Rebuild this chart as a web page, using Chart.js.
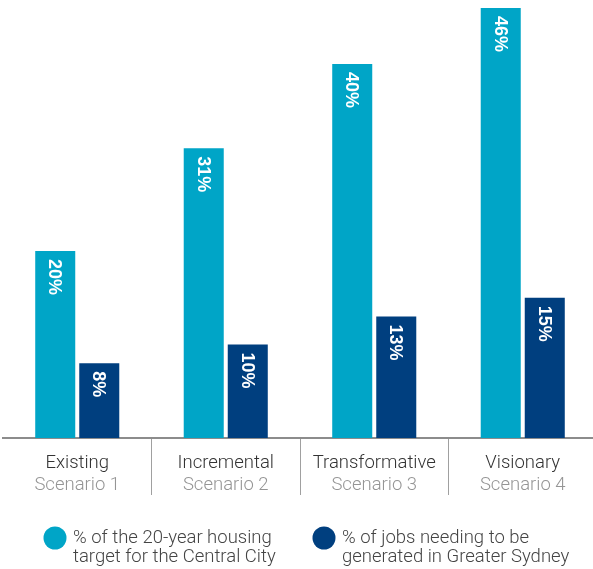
<!DOCTYPE html>
<html lang="en">
<head>
    <meta charset="UTF-8">
    <title>Central City growth scenarios</title>
    <script src="https://cdn.jsdelivr.net/npm/chart.js@4"></script>
    <style>
        html, body { margin: 0; padding: 0; background: #fff; overflow: hidden; }
        #wrap { position: absolute; left: 0; top: 0; width: 600px; height: 569px; }
    </style>
</head>
<body>
    <div id="wrap">
        <canvas id="scenarioChart" width="600" height="569"></canvas>
    </div>

    <script>
        // Scenario names (top line) and their scenario number (second line)
        const scenarioNames = ['Existing', 'Incremental', 'Transformative', 'Visionary'];
        const scenarioNumbers = ['Scenario 1', 'Scenario 2', 'Scenario 3', 'Scenario 4'];

        // Values in percent
        const housingShare = [20, 31, 40, 46];
        const jobsShare = [8, 10, 13, 15];

        // Legend text, one entry per series, split over two lines
        const housingLegend = ['% of the 20-year housing', 'target for the Central City'];
        const jobsLegend = ['% of jobs needing to be', 'generated in Greater Sydney'];

        const housingColor = '#00a5c7';
        const jobsColor = '#003f7f';

        const LABEL_FONT = '300 18.5px Roboto, "Open Sans", sans-serif';

        // White rotated value labels at the top of each bar
        const barValueLabels = {
            id: 'barValueLabels',
            afterDatasetsDraw(chart) {
                const ctx = chart.ctx;
                ctx.save();
                ctx.fillStyle = '#ffffff';
                ctx.font = 'bold 18px "Liberation Sans", Arial, sans-serif';
                ctx.textAlign = 'left';
                ctx.textBaseline = 'middle';
                chart.data.datasets.forEach((ds, di) => {
                    chart.getDatasetMeta(di).data.forEach((bar, i) => {
                        ctx.save();
                        ctx.translate(bar.x, bar.y + 8);
                        ctx.rotate(Math.PI / 2);
                        ctx.fillText(ds.data[i] + '%', 0, 1);
                        ctx.restore();
                    });
                });
                ctx.restore();
            }
        };

        // Two-line category labels under the axis
        const categoryLabels = {
            id: 'categoryLabels',
            afterDraw(chart) {
                const ctx = chart.ctx;
                const x = chart.scales.x;
                const base = chart.chartArea.bottom;
                ctx.save();
                ctx.font = LABEL_FONT;
                ctx.textAlign = 'center';
                ctx.textBaseline = 'middle';
                scenarioNames.forEach((name, i) => {
                    const px = x.getPixelForValue(i);
                    ctx.fillStyle = '#333333';
                    ctx.fillText(name, px, base + 25);
                    ctx.fillStyle = '#959595';
                    ctx.fillText(scenarioNumbers[i], px, base + 47);
                });
                ctx.restore();
            }
        };

        // Legend with round markers below the chart
        const roundLegend = {
            id: 'roundLegend',
            afterDraw(chart) {
                const ctx = chart.ctx;
                const items = [
                    { lines: housingLegend, color: housingColor, x: 55 },
                    { lines: jobsLegend, color: jobsColor, x: 324 }
                ];
                const cy = 538;
                ctx.save();
                ctx.font = LABEL_FONT;
                ctx.textAlign = 'left';
                ctx.textBaseline = 'middle';
                items.forEach(item => {
                    ctx.fillStyle = item.color;
                    ctx.beginPath();
                    ctx.arc(item.x, cy, 11.5, 0, Math.PI * 2);
                    ctx.fill();
                    ctx.fillStyle = '#444444';
                    item.lines.forEach((line, j) => {
                        ctx.fillText(line, item.x + 18, cy + j * 19);
                    });
                });
                ctx.restore();
            }
        };

        new Chart(document.getElementById('scenarioChart'), {
            type: 'bar',
            data: {
                labels: scenarioNames,
                datasets: [
                    {
                        label: housingLegend.join(' '),
                        data: housingShare,
                        backgroundColor: housingColor,
                        categoryPercentage: 0.593,
                        barPercentage: 0.909
                    },
                    {
                        label: jobsLegend.join(' '),
                        data: jobsShare,
                        backgroundColor: jobsColor,
                        categoryPercentage: 0.593,
                        barPercentage: 0.909
                    }
                ]
            },
            options: {
                responsive: false,
                animation: false,
                devicePixelRatio: 1,
                layout: { padding: { top: 8, left: 3, right: 3, bottom: 0 } },
                plugins: {
                    legend: { display: false },
                    tooltip: { enabled: false }
                },
                scales: {
                    x: {
                        offset: true,
                        ticks: { display: false },
                        grid: {
                            offset: true,
                            drawOnChartArea: false,
                            drawTicks: true,
                            tickLength: 57,
                            lineWidth: 1,
                            color: (c) => (c.index > 0 ? '#a0a0a0' : 'rgba(0,0,0,0)')
                        },
                        border: { display: true, color: '#8c8c8c', width: 2 },
                        afterFit: (scale) => { scale.height = 131; }
                    },
                    y: {
                        display: false,
                        min: 0,
                        max: 46
                    }
                }
            },
            plugins: [barValueLabels, categoryLabels, roundLegend]
        });
    </script>
</body>
</html>
